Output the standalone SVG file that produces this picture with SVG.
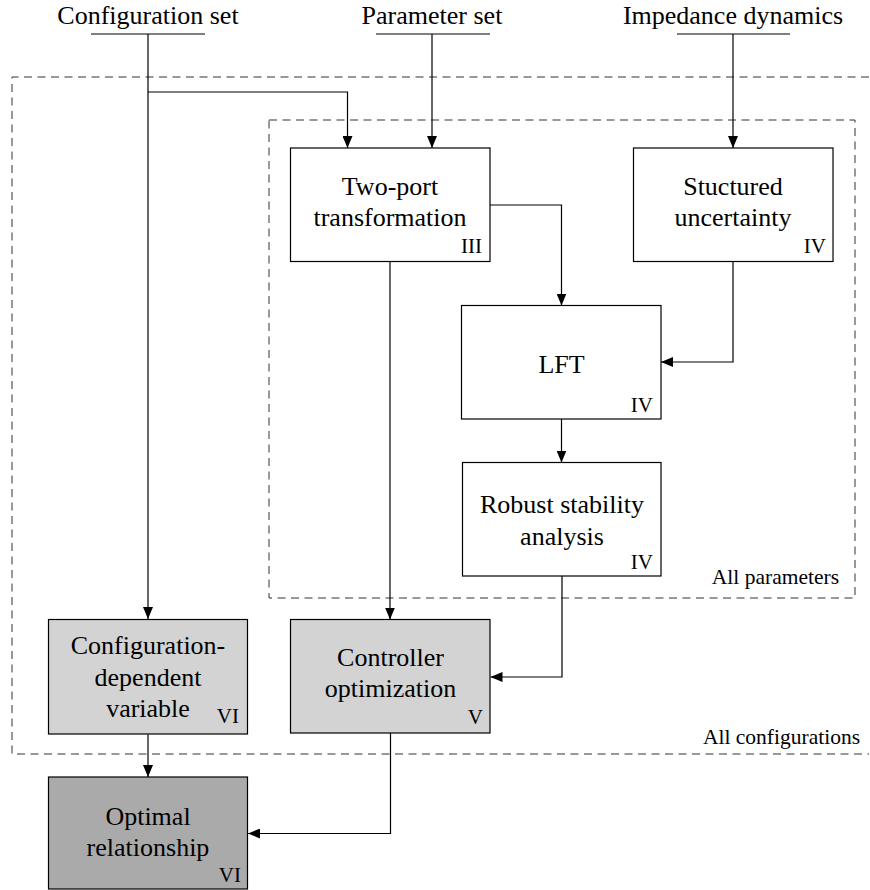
<svg xmlns="http://www.w3.org/2000/svg" width="870" height="890" viewBox="0 0 870 890">
<defs>
<style>
text{font-family:'Times New Roman','Liberation Serif',serif;fill:#000}
.t{font-size:26px;text-anchor:middle}
.n{font-size:21px;text-anchor:end}
.s{font-size:21.5px;text-anchor:end}
.box{stroke:#000;stroke-width:1.2}
.dash{fill:none;stroke:#333;stroke-width:1;stroke-dasharray:8 5.5}
.c{fill:none;stroke:#000;stroke-width:1.2}
</style>
<marker id="a" viewBox="0 0 12 10" refX="12" refY="5" markerWidth="12" markerHeight="10" markerUnits="userSpaceOnUse" orient="auto">
<path d="M0,0 L12,5 L0,10 Z" fill="#000"/>
</marker>
</defs>
<rect width="870" height="890" fill="#fff"/>

<g id="regions">
<path class="dash" d="M869,77 H12 V754 H869"/>
<rect class="dash" x="269" y="120" width="586" height="478"/>
<text class="s" x="839" y="584">All parameters</text>
<text class="s" x="860" y="744">All configurations</text>
</g>

<g id="inputs">
<text class="t" x="148" y="24">Configuration set</text>
<line class="c" x1="91" y1="34" x2="205" y2="34"/>
<text class="t" x="432" y="24">Parameter set</text>
<line class="c" x1="376" y1="34" x2="490" y2="34"/>
<text class="t" x="733" y="24">Impedance dynamics</text>
<line class="c" x1="677" y1="34" x2="790" y2="34"/>
</g>

<g id="connectors">
<path class="c" d="M148,34 V619" marker-end="url(#a)"/>
<path class="c" d="M148,92 H347.5 V148" marker-end="url(#a)"/>
<path class="c" d="M432,34 V148" marker-end="url(#a)"/>
<path class="c" d="M733,34 V148" marker-end="url(#a)"/>
<path class="c" d="M490,205 H561.5 V305.5" marker-end="url(#a)"/>
<path class="c" d="M733,262 V362 H661" marker-end="url(#a)"/>
<path class="c" d="M561.5,419 V462.5" marker-end="url(#a)"/>
<path class="c" d="M390,262 V619.5" marker-end="url(#a)"/>
<path class="c" d="M562,576 V677 H490.5" marker-end="url(#a)"/>
<path class="c" d="M148,734.5 V777" marker-end="url(#a)"/>
<path class="c" d="M390.5,733 V833.5 H248" marker-end="url(#a)"/>
</g>

<g id="two-port">
<rect class="box" fill="#fff" x="290.5" y="148" width="199.5" height="113.5"/>
<text class="t" x="390" y="195">Two-port</text>
<text class="t" x="390" y="226">transformation</text>
<text class="n" x="482" y="253">III</text>
</g>

<g id="structured-uncertainty">
<rect class="box" fill="#fff" x="633.5" y="148" width="199.5" height="113.5"/>
<text class="t" x="733" y="195">Stuctured</text>
<text class="t" x="733" y="226">uncertainty</text>
<text class="n" x="826" y="253">IV</text>
</g>

<g id="lft">
<rect class="box" fill="#fff" x="461.5" y="305.5" width="199.5" height="113.5"/>
<text class="t" x="561.5" y="373">LFT</text>
<text class="n" x="653" y="412">IV</text>
</g>

<g id="robust-stability">
<rect class="box" fill="#fff" x="462.5" y="462.5" width="198.5" height="113.5"/>
<text class="t" x="562" y="513">Robust stability</text>
<text class="t" x="562" y="545">analysis</text>
<text class="n" x="653" y="569">IV</text>
</g>

<g id="config-dependent">
<rect class="box" fill="#d3d3d3" x="48.5" y="619.5" width="199" height="114.5"/>
<text class="t" x="148" y="654">Configuration-</text>
<text class="t" x="148" y="686">dependent</text>
<text class="t" x="148" y="717">variable</text>
<text class="n" x="239" y="723">VI</text>
</g>

<g id="controller-optimization">
<rect class="box" fill="#d3d3d3" x="290.5" y="619.5" width="199.5" height="113.5"/>
<text class="t" x="390.5" y="666">Controller</text>
<text class="t" x="390.5" y="697">optimization</text>
<text class="n" x="483" y="724">V</text>
</g>

<g id="optimal-relationship">
<rect class="box" fill="#aaaaaa" x="48.5" y="777" width="199" height="112"/>
<text class="t" x="148" y="825">Optimal</text>
<text class="t" x="148" y="856">relationship</text>
<text class="n" x="241" y="882">VI</text>
</g>
</svg>
